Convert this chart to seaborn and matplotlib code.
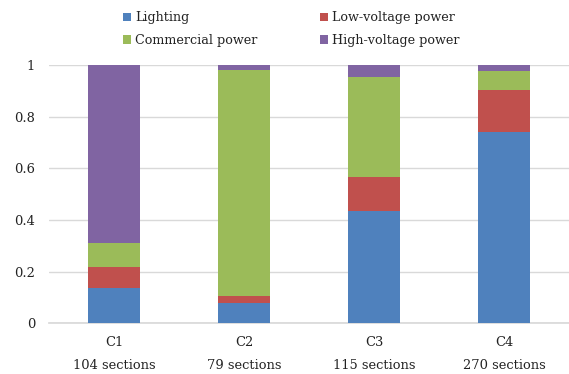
import numpy as np
import pandas as pd
import matplotlib
matplotlib.use("Agg")
import matplotlib.pyplot as plt
import seaborn as sns
from matplotlib.patches import Patch

categories = ["C1", "C2", "C3", "C4"]
sections = ["104 sections", "79 sections", "115 sections", "270 sections"]
series_names = ["Lighting", "Low-voltage power", "Commercial power", "High-voltage power"]
lighting = [0.135, 0.080, 0.434, 0.742]
low_voltage = [0.083, 0.027, 0.131, 0.161]
commercial = [0.093, 0.876, 0.389, 0.074]
high_voltage = [0.689, 0.017, 0.046, 0.023]
colors = ["#4f81bd", "#c0504d", "#9bbb59", "#8064a2"]

sns.set_theme(style="white")
plt.rcParams["font.family"] = ["DejaVu Serif"]

df = pd.DataFrame({
    "cat": categories,
    "Lighting": lighting,
    "Low-voltage power": low_voltage,
    "Commercial power": commercial,
    "High-voltage power": high_voltage,
})
cum = df[series_names].cumsum(axis=1)

fig = plt.figure(figsize=(5.69, 3.74), dpi=100)
ax = fig.add_axes([0.086, 0.1356, 0.914, 0.690])

# draw stacked layers from the tallest cumulative total down
for name, color in reversed(list(zip(series_names, colors))):
    sns.barplot(x=df["cat"], y=cum[name], color=color, width=0.4,
                linewidth=0, saturation=1, ax=ax, zorder=3)

ax.set_ylim(0, 1)
ax.set_yticks([0, 0.2, 0.4, 0.6, 0.8, 1.0])
ax.set_yticklabels(["0", "0.2", "0.4", "0.6", "0.8", "1"], fontsize=9.4,
                   color="#222222")
ax.set_xticks(range(len(categories)))
ax.set_xticklabels([f"{c}\n{s}" for c, s in zip(categories, sections)],
                   fontsize=9.4, linespacing=2.0, color="#222222")
ax.set_xlabel("")
ax.set_ylabel("")
ax.grid(axis="y", color="#d9d9d9", linewidth=1, zorder=0)
for side in ["top", "right", "left"]:
    ax.spines[side].set_visible(False)
ax.spines["bottom"].set_color("#d9d9d9")
ax.tick_params(axis="x", length=0, pad=9)
ax.tick_params(axis="y", length=0, pad=10)

handles = [Patch(facecolor=c, edgecolor="none") for c in colors]
order = [0, 2, 1, 3]
fig.legend([handles[i] for i in order], [series_names[i] for i in order],
           loc="upper center", bbox_to_anchor=(0.512, 1.0), ncol=2,
           frameon=False, fontsize=9.2, handlelength=0.65, handleheight=0.65,
           handletextpad=0.3, columnspacing=4.9, labelspacing=0.75,
           labelcolor="#222222")

fig.savefig("out.png", dpi=100)
